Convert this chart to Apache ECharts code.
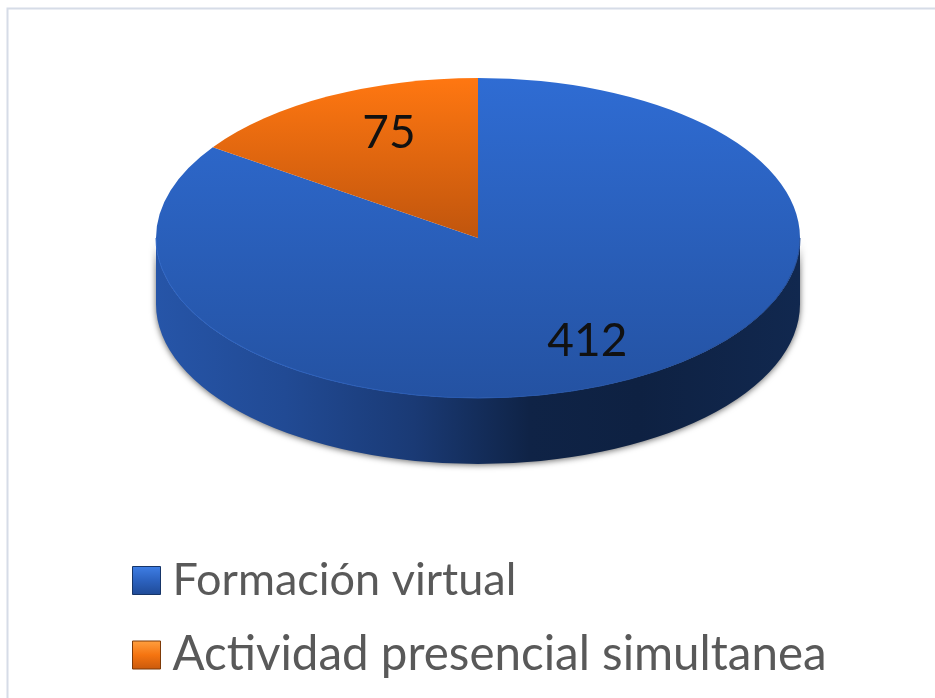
<!DOCTYPE html>
<html>
<head>
<meta charset="utf-8">
<style>
  html, body { margin: 0; background: #fff; }
  #chart { width: 935px; height: 698px; }
</style>
<script src="https://cdn.jsdelivr.net/npm/echarts@6/dist/echarts.min.js"></script>
</head>
<body>
<div id="chart"></div>
<script>
const categories = ['Formación virtual', 'Actividad presencial simultanea'];
const values = [412, 75];

const total = values.reduce((a, b) => a + b, 0);

// pie geometry
const cx = 478, cy = 238, rx = 322, ry = 160, depth = 66;

const grad = (y0, y1, from, to) =>
  new echarts.graphic.LinearGradient(0, y0, 0, y1, [
    { offset: 0, color: from },
    { offset: 1, color: to }
  ], true);

const topFill = [
  grad(cy - ry, cy + ry, '#2f6cd3', '#2452a2'),
  grad(cy - ry, cy, '#ff7711', '#c0550d')
];
const labelAt = [[0.73, 0.73], [0.595, 0.74]];

const wallFill = new echarts.graphic.LinearGradient(cx - rx, 0, cx + rx, 0, [
  { offset: 0, color: '#2655a8' },
  { offset: 0.2, color: '#214a94' },
  { offset: 0.4, color: '#1a3a75' },
  { offset: 0.58, color: '#0f2346' },
  { offset: 0.75, color: '#0e2142' },
  { offset: 1, color: '#11284f' }
], true);
const rimStroke = new echarts.graphic.LinearGradient(cx - rx, 0, cx + rx, 0, [
  { offset: 0, color: '#2f66c6' },
  { offset: 0.5, color: '#2759b0' },
  { offset: 1, color: '#234d98' }
], true);

const pt = (a, r) => [cx + rx * r[0] * Math.sin(a), cy - ry * r[1] * Math.cos(a)];

const renderSlice = (index) => (params, api) => {
  const before = values.slice(0, index).reduce((a, b) => a + b, 0);
  const value = api.value(0);
  const a0 = (before / total) * Math.PI * 2;
  const a1 = ((before + value) / total) * Math.PI * 2;
  const p0 = pt(a0, [1, 1]);
  const p1 = pt(a1, [1, 1]);
  const large = a1 - a0 > Math.PI ? 1 : 0;
  const mid = (a0 + a1) / 2;
  const lp = pt(mid, labelAt[index]);
  const children = [];

  if (index === 0) {
    // side wall, only the blue slice reaches the front
    children.push({
      type: 'path',
      shape: {
        pathData: `M${cx - rx} ${cy}L${cx - rx} ${cy + depth}A${rx} ${ry} 0 0 0 ${cx + rx} ${cy + depth}L${cx + rx} ${cy}A${rx} ${ry} 0 0 1 ${cx - rx} ${cy}Z`
      },
      style: {
        fill: wallFill,
        shadowBlur: 6,
        shadowColor: 'rgba(0,0,0,0.6)',
        shadowOffsetY: 1
      }
    });
  }
  children.push({
    type: 'path',
    shape: {
      pathData: `M${cx} ${cy}L${p0[0]} ${p0[1]}A${rx} ${ry} 0 ${large} 1 ${p1[0]} ${p1[1]}Z`
    },
    style: { fill: topFill[index] }
  });
  if (index === 0) {
    children.push({
      type: 'path',
      shape: {
        pathData: `M${cx - rx} ${cy}A${rx} ${ry} 0 0 0 ${cx + rx} ${cy}`
      },
      style: { fill: 'none', stroke: rimStroke, lineWidth: 1 }
    });
  }
  children.push({
    type: 'text',
    x: lp[0],
    y: lp[1],
    style: {
      text: String(value),
      fill: '#111',
      font: '46px Lato',
      align: 'center',
      verticalAlign: 'middle'
    }
  });
  return { type: 'group', children };
};

const legendFill = [
  new echarts.graphic.LinearGradient(0, 0, 0, 1, [
    { offset: 0, color: '#3f7fe6' },
    { offset: 0.5, color: '#2c62bf' },
    { offset: 1, color: '#1f4a96' }
  ]),
  new echarts.graphic.LinearGradient(0, 0, 0, 1, [
    { offset: 0, color: '#ffa040' },
    { offset: 0.5, color: '#f57410' },
    { offset: 1, color: '#c9590c' }
  ])
];
const legendEdge = ['#163568', '#7d3a08'];
// the second row runs a little wider than Lato at the same size
const legendFontSize = [45, 47.5];

const chart = echarts.init(document.getElementById('chart'));

chart.setOption({
  animation: false,
  backgroundColor: '#fff',
  graphic: [{
    type: 'polyline',
    silent: true,
    shape: { points: [[7.5, 698], [7.5, 8.5], [935, 8.5]] },
    style: { fill: 'none', stroke: '#d6dce7', lineWidth: 2 }
  }],
  legend: {
    orient: 'vertical',
    left: 132,
    top: 558,
    padding: 0,
    itemWidth: 28,
    itemHeight: 28,
    itemGap: 28,
    selectedMode: false,
    textStyle: {
      fontFamily: 'Lato',
      color: '#595959',
      padding: [0, 0, 0, 7]
    },
    data: categories.map((name, i) => ({
      name,
      icon: 'rect',
      itemStyle: { color: legendFill[i], borderColor: legendEdge[i], borderWidth: 1 },
      textStyle: {
        fontFamily: 'Lato',
        fontSize: legendFontSize[i],
        color: '#595959',
        padding: [0, 0, 0, 7]
      }
    }))
  },
  series: categories.map((name, i) => ({
    type: 'custom',
    name,
    coordinateSystem: 'none',
    silent: true,
    data: [[values[i]]],
    renderItem: renderSlice(i)
  }))
});
</script>
</body>
</html>
